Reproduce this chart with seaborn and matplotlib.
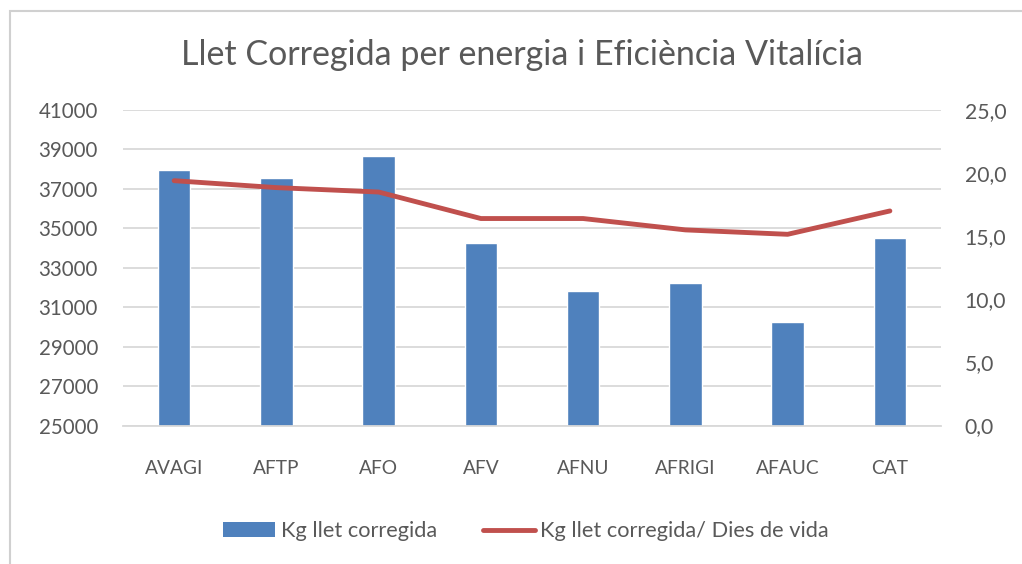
import numpy as np
import pandas as pd
import seaborn as sns
import matplotlib.pyplot as plt
from matplotlib.patches import Rectangle
from matplotlib.lines import Line2D
from matplotlib.patches import Patch

# data
grups = ["AVAGI", "AFTP", "AFO", "AFV", "AFNU", "AFRIGI", "AFAUC", "CAT"]
kg_llet = [37950, 37540, 38660, 34240, 31830, 32240, 30250, 34510]
kg_dia = [19.4, 18.85, 18.5, 16.4, 16.4, 15.5, 15.15, 17.0]

blau = "#4F81BD"
vermell = "#C0504D"
gris_txt = "#595959"
gris_grid = "#D9D9D9"

sns.set_theme(style="white")
plt.rcParams['font.family'] = ['Lato', 'DejaVu Sans']

df = pd.DataFrame({"grup": grups, "llet": kg_llet, "dia": kg_dia})

W, H = 1022, 564
fig = plt.figure(figsize=(W/100, H/100), dpi=100)
fig.patch.set_facecolor("white")

# chart border (only left & top visible in the crop)
fig.patches.append(Rectangle((10/W, -0.05), 1.2, 1 - 11/H + 0.05, transform=fig.transFigure,
                             fill=False, edgecolor="#D0D0D0", linewidth=1.5))

x0, x1, y0, y1 = 123, 941, 110, 425.5
ax = fig.add_axes([x0/W, 1 - y1/H, (x1-x0)/W, (y1-y0)/H])

sns.barplot(data=df, x="grup", y="llet", color=blau, width=0.32, saturation=1, ax=ax, zorder=2)
ax.set_ylim(25000, 41000)
ax.set_yticks(np.arange(25000, 41001, 2000))
ax.set_xlim(-0.5, 7.5)
ax.grid(axis="y", color=gris_grid, linewidth=1.3, zorder=0)
ax.set_axisbelow(True)
for s in ax.spines.values():
    s.set_visible(False)
ax.spines["bottom"].set_visible(True)
ax.spines["bottom"].set_color(gris_grid)
ax.spines["bottom"].set_linewidth(1.3)
ax.set_xlabel("")
ax.set_ylabel("")
ax.tick_params(axis="y", colors=gris_txt, labelsize=14.8, length=0, pad=18)
ax.tick_params(axis="x", colors=gris_txt, labelsize=13.8, length=0, pad=25)

ax2 = ax.twinx()
sns.lineplot(data=df, x="grup", y="dia", color=vermell, linewidth=3.5, sort=False, ax=ax2,
             solid_capstyle="round")
ax2.set_ylim(0, 25)
ax2.set_yticks(np.arange(0, 25.1, 5))
ax2.set_yticklabels([f"{v:.1f}".replace(".", ",") for v in np.arange(0, 25.1, 5)])
ax2.set_ylabel("")
for s in ax2.spines.values():
    s.set_visible(False)
ax2.tick_params(axis="y", colors=gris_txt, labelsize=15.2, length=0, pad=17)
ax2.grid(False)

fig.text(522/W, 1 - 55/H, "Llet Corregida per energia i Eficiència Vitalícia",
         ha="center", va="center", fontsize=24.5, color=gris_txt)

handles = [Patch(facecolor=blau, edgecolor="none"),
           Line2D([0], [0], color=vermell, linewidth=3.5, solid_capstyle="round")]
fig.legend(handles, ["Kg llet corregida", "Kg llet corregida/ Dies de vida"],
           loc="center", bbox_to_anchor=(526/W, 1 - 531/H), ncol=2, frameon=False,
           fontsize=15.7, labelcolor=gris_txt, handlelength=2.4, handleheight=0.65,
           handletextpad=0.25, columnspacing=2.1)

fig.savefig("out.png", dpi=100, facecolor="white")
